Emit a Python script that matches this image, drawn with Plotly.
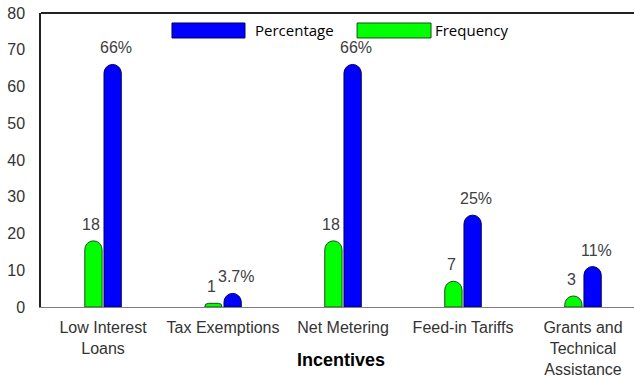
import plotly.graph_objects as go

categories = ["Low Interest<br>Loans", "Tax Exemptions", "Net Metering",
              "Feed-in Tariffs", "Grants and<br>Technical<br>Assistance"]
frequency = [18, 1, 18, 7, 3]
percentage = [66, 3.7, 66, 25, 11]
y_ticks = [0, 10, 20, 30, 40, 50, 60, 70, 80]

GREEN = "#00FF00"
BLUE = "#0000FF"
FONT = "Liberation Sans, Arial, sans-serif"

fig = go.Figure()
fig.add_trace(go.Bar(x=categories, y=frequency, name="Frequency",
                     marker=dict(color=GREEN, line=dict(color="#1a4d1a", width=1))))
fig.add_trace(go.Bar(x=categories, y=percentage, name="Percentage",
                     marker=dict(color=BLUE, line=dict(color="#00005a", width=1))))

annotations = []
for c, f, p in zip(categories, frequency, percentage):
    annotations.append(dict(x=c, y=f, xref="x", yref="y", text=f"{f:g}",
                            showarrow=False, xshift=-12, yshift=6, yanchor="bottom",
                            font=dict(family=FONT, size=16, color="#404040")))
    annotations.append(dict(x=c, y=p, xref="x", yref="y", text=f"{p:g}%",
                            showarrow=False, xshift=13, yshift=6, yanchor="bottom",
                            font=dict(family=FONT, size=16, color="#404040")))

# axis title
annotations.append(dict(x=0.506, y=-0.18, xref="paper", yref="paper", text="<b>Incentives</b>",
                        showarrow=False, xanchor="center", yanchor="middle",
                        font=dict(family=FONT, size=18, color="black")))
# custom legend texts
annotations.append(dict(x=0.3575, y=0.9405, xref="paper", yref="paper", text="Percentage",
                        showarrow=False, xanchor="left", yanchor="middle",
                        font=dict(family="Open Sans, sans-serif", size=15, color="black")))
annotations.append(dict(x=0.661, y=0.9405, xref="paper", yref="paper", text="Frequency",
                        showarrow=False, xanchor="left", yanchor="middle",
                        font=dict(family="Open Sans, sans-serif", size=15, color="black")))

shapes = [
    # top frame line
    dict(type="line", xref="paper", yref="paper", x0=0, x1=1.05, y0=1, y1=1,
         line=dict(color="#222222", width=2)),
    # legend swatches
    dict(type="rect", xref="paper", yref="paper", x0=0.2209, x1=0.344, y0=0.915, y1=0.966,
         fillcolor=BLUE, line=dict(color="#00005a", width=1)),
    dict(type="rect", xref="paper", yref="paper", x0=0.533, x1=0.6577, y0=0.915, y1=0.966,
         fillcolor=GREEN, line=dict(color="#1a4d1a", width=1)),
]

fig.update_layout(
    width=634, height=378,
    margin=dict(l=41, r=0, t=13, b=71),
    paper_bgcolor="white", plot_bgcolor="white",
    barmode="group", bargap=0.68, bargroupgap=0.1, barcornerradius="50%",
    showlegend=False,
    font=dict(family=FONT, size=16, color="#333333"),
    annotations=annotations, shapes=shapes,
)
fig.update_xaxes(type="category", range=[-0.517, 4.425], showline=True, linecolor="#808080",
                 linewidth=1, showgrid=False, ticks="", ticklabelstandoff=6,
                 tickfont=dict(family=FONT, size=16, color="#333333"))
fig.update_yaxes(range=[0, 80], tickvals=y_ticks, showline=True, linecolor="#222222",
                 linewidth=1.5, showgrid=False, zeroline=False, ticks="",
                 ticklabelstandoff=11, tickfont=dict(family=FONT, size=16, color="#333333"))

fig.write_html("out.html")
